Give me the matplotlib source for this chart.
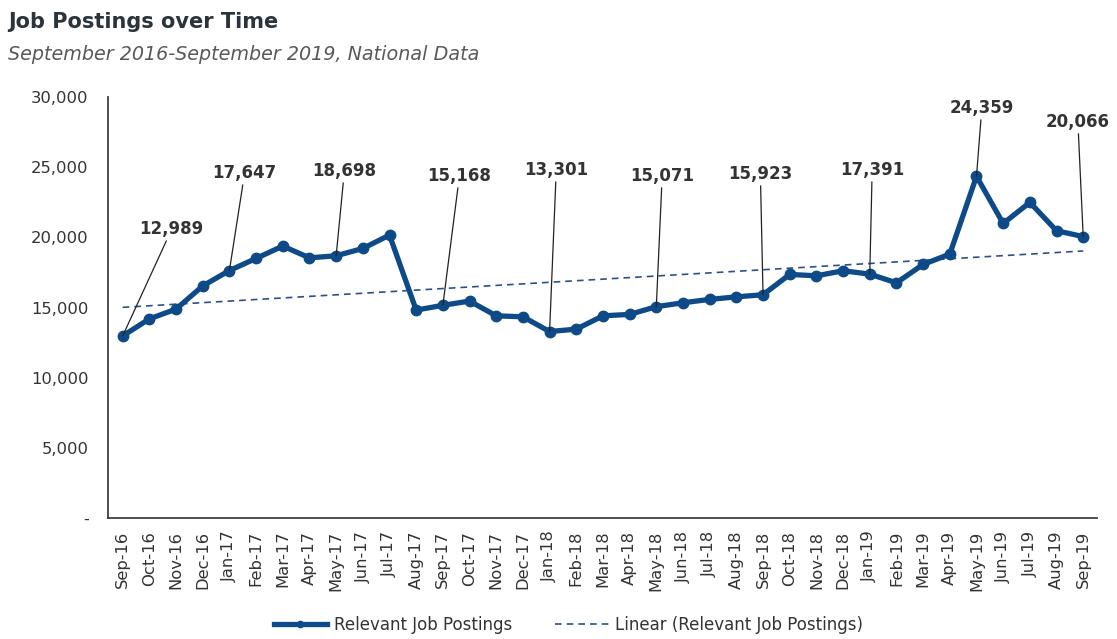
import matplotlib
matplotlib.use("Agg")
import matplotlib.pyplot as plt
import numpy as np

months = ["Sep-16", "Oct-16", "Nov-16", "Dec-16", "Jan-17", "Feb-17", "Mar-17", "Apr-17",
          "May-17", "Jun-17", "Jul-17", "Aug-17", "Sep-17", "Oct-17", "Nov-17", "Dec-17",
          "Jan-18", "Feb-18", "Mar-18", "Apr-18", "May-18", "Jun-18", "Jul-18", "Aug-18",
          "Sep-18", "Oct-18", "Nov-18", "Dec-18", "Jan-19", "Feb-19", "Mar-19", "Apr-19",
          "May-19", "Jun-19", "Jul-19", "Aug-19", "Sep-19"]
postings = [12989, 14200, 14900, 16550, 17647, 18510, 19390, 18550,
            18698, 19220, 20170, 14830, 15168, 15470, 14420, 14350,
            13301, 13470, 14420, 14520, 15071, 15350, 15590, 15770,
            15923, 17370, 17270, 17630, 17391, 16770, 18080, 18820,
            24359, 21000, 22500, 20480, 20066]
# labelled points: index and label position
label_idx = [0, 4, 8, 12, 16, 20, 24, 28, 32, 36]
label_pos = [(1.84, 20600), (4.57, 24590), (8.31, 24730), (12.62, 24380), (16.25, 24800),
             (20.22, 24380), (23.9, 24520), (28.09, 24800), (32.2, 29220), (35.8, 28230)]
yticks = [0, 5000, 10000, 15000, 20000, 25000, 30000]
ytick_labels = ["-", "5,000", "10,000", "15,000", "20,000", "25,000", "30,000"]

blue = "#0d4a87"
dark = "#333333"

fig = plt.figure(figsize=(11.17, 6.39), dpi=100)
ax = fig.add_axes([0.0967, 0.189, 0.885, 0.659])

x = np.arange(len(months))
y = np.array(postings, dtype=float)
ax.plot(x, y, color=blue, lw=3.8, marker="o", ms=7.5, solid_joinstyle="round",
        label="Relevant Job Postings", zorder=3)
coef = np.polyfit(x, y, 1)
ax.plot(x, np.polyval(coef, x), color="#2f4f8a", lw=1.2, ls=(0, (4, 3)),
        label="Linear (Relevant Job Postings)", zorder=2)

for i, (tx, ty) in zip(label_idx, label_pos):
    ax.annotate(f"{postings[i]:,}", xy=(x[i], y[i]), xytext=(tx, ty), textcoords="data",
                ha="center", va="center", fontsize=12, fontweight="bold", color=dark,
                arrowprops=dict(arrowstyle="-", color="#222222", lw=0.9,
                                shrinkA=0, shrinkB=0, relpos=(0.5, 0.5)),
                zorder=4)

ax.set_xlim(-0.55, 36.5)
ax.set_ylim(0, 30000)
ax.set_yticks(yticks)
ax.set_yticklabels(ytick_labels)
ax.set_xticks(x)
ax.set_xticklabels(months, rotation=90)
ax.tick_params(axis="both", length=0, colors=dark, labelsize=11.8)
ax.tick_params(axis="y", pad=14)
ax.tick_params(axis="x", pad=9)
for s in ["top", "right"]:
    ax.spines[s].set_visible(False)
for s in ["left", "bottom"]:
    ax.spines[s].set_color("#404040")
    ax.spines[s].set_linewidth(1.3)

fig.text(0.007, 0.966, "Job Postings over Time", fontsize=15, fontweight="bold",
         color="#2b343b", va="center", ha="left")
fig.text(0.007, 0.915, "September 2016-September 2019, National Data", fontsize=13.8,
         fontstyle="italic", color="#595959", va="center", ha="left")

fig.legend(loc="center", bbox_to_anchor=(0.509, 0.022), ncol=2, frameon=False,
           fontsize=12, handlelength=3.2, columnspacing=2.6, labelcolor=dark,
           handletextpad=0.4, markerscale=0.6)

fig.savefig("out.png", dpi=100)
